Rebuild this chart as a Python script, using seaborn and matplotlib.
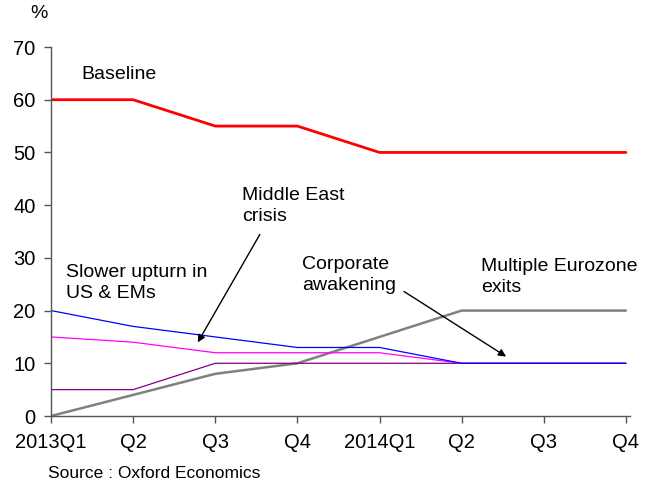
import matplotlib
matplotlib.use("Agg")
import matplotlib.pyplot as plt
import seaborn as sns
import pandas as pd

quarters = ["2013Q1", "Q2", "Q3", "Q4", "2014Q1", "Q2", "Q3", "Q4"]
baseline = [60, 60, 55, 55, 50, 50, 50, 50]
slower_upturn = [20, 17, 15, 13, 13, 10, 10, 10]
middle_east = [15, 14, 12, 12, 12, 10, 10, 10]
corporate = [5, 5, 10, 10, 10, 10, 10, 10]
eurozone_exits = [0, 4, 8, 10, 15, 20, 20, 20]

series = {
    "Baseline": baseline,
    "Slower upturn in US & EMs": slower_upturn,
    "Middle East crisis": middle_east,
    "Corporate awakening": corporate,
    "Multiple Eurozone exits": eurozone_exits,
}
colors = {
    "Baseline": "#ff0000",
    "Slower upturn in US & EMs": "#0000ff",
    "Middle East crisis": "#ff00ff",
    "Corporate awakening": "#800080",
    "Multiple Eurozone exits": "#808080",
}
widths = {
    "Baseline": 2.0,
    "Slower upturn in US & EMs": 0.9,
    "Middle East crisis": 0.9,
    "Corporate awakening": 0.9,
    "Multiple Eurozone exits": 1.8,
}

rows = []
for name, vals in series.items():
    for i, v in enumerate(vals):
        rows.append({"scenario": name, "t": i, "value": v})
df = pd.DataFrame(rows)

sns.set_style("ticks")
plt.rcParams["font.family"] = ["Liberation Sans", "DejaVu Sans"]
plt.rcParams["text.color"] = "black"

fig = plt.figure(figsize=(6.61, 4.82), dpi=100)
ax = fig.add_axes([51 / 661, 1 - 416 / 482, (630 - 51) / 661, (416 - 47) / 482])

for name in ["Multiple Eurozone exits", "Corporate awakening", "Middle East crisis",
             "Slower upturn in US & EMs", "Baseline"]:
    sns.lineplot(data=df[df["scenario"] == name], x="t", y="value", ax=ax,
                 color=colors[name], linewidth=widths[name], legend=False)

ax.set_ylim(0, 70)
ax.set_xticks(range(len(quarters)))
ax.set_xticklabels(quarters)
ax.set_yticks(range(0, 71, 10))
ax.set_xlabel("")
ax.set_ylabel("")
ax.tick_params(axis="both", labelsize=14.5, length=5, width=1, color="#555555",
               labelcolor="black")
ax.tick_params(axis="y", pad=6)
ax.tick_params(axis="x", pad=7)
for s in ["top", "right"]:
    ax.spines[s].set_visible(False)
for s in ["left", "bottom"]:
    ax.spines[s].set_color("#555555")
    ax.spines[s].set_linewidth(1)
ax.set_xlim(0, 7.05)
ax.spines["bottom"].set_bounds(0, 7.05)

fs = 14
ls = 1.3
ax.text(0.37, 64.7, "Baseline", fontsize=fs, va="center", ha="left", color="black")
ax.text(2.33, 39.8, "Middle East\ncrisis", fontsize=fs, va="center", ha="left",
        linespacing=ls, color="black")
ax.text(0.18, 25.2, "Slower upturn in\nUS & EMs", fontsize=fs, va="center", ha="left",
        linespacing=ls, color="black")
ax.text(3.06, 26.7, "Corporate\nawakening", fontsize=fs, va="center", ha="left",
        linespacing=ls, color="black")
ax.text(5.24, 26.4, "Multiple Eurozone\nexits", fontsize=fs, va="center", ha="left",
        linespacing=ls, color="black")

arrow = dict(arrowstyle="-|>", color="black", lw=1, mutation_scale=11)
ax.annotate("", xy=(1.77, 13.5), xytext=(2.56, 34.9), arrowprops=arrow)
ax.annotate("", xy=(5.57, 11.0), xytext=(4.27, 23.9), arrowprops=arrow)

fig.text(30 / 661, 1 - 13 / 482, "%", fontsize=14, va="center", ha="left",
         color="black")
fig.text(48 / 661, 1 - 473 / 482, "Source : Oxford Economics", fontsize=12.5,
         va="center", ha="left", color="black")

fig.savefig("out.png", dpi=100)
